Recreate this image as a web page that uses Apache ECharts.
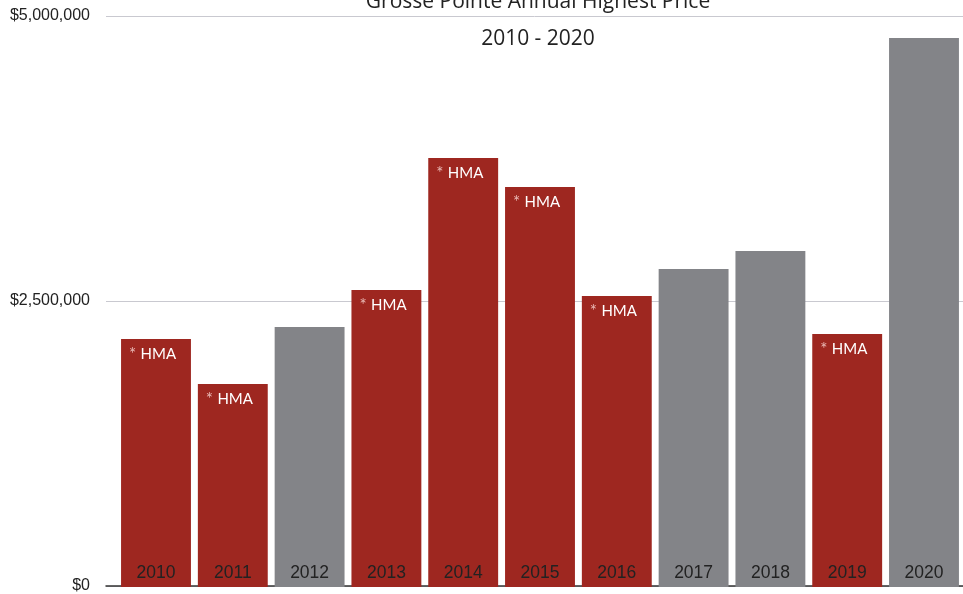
<!DOCTYPE html>
<html><head><meta charset="utf-8">
<script src="https://cdn.jsdelivr.net/npm/echarts@6/dist/echarts.min.js"></script>
<style>html,body{margin:0;padding:0;background:#fff}#c{width:963px;height:594px}</style>
</head><body><div id="c"></div>
<script>
const years = ['2010','2011','2012','2013','2014','2015','2016','2017','2018','2019','2020'];
const prices = [2172000,1778000,2277000,2601000,3757000,3503000,2548000,2785000,2942000,2215000,4807000];
const hma = [true,true,false,true,true,true,true,false,false,true,false];
const yTicks = [0,2500000,5000000];
const titleText = 'Grosse Pointe Annual Highest Price';
const subTitleText = '2010 - 2020';

const RED = '#9E2720', GRAY = '#838488';
const chart = echarts.init(document.getElementById('c'));
const mainData = prices.map((v,i)=>({
  value: v,
  itemStyle: {color: hma[i] ? RED : GRAY},
  label: {show: hma[i]}
}));
chart.setOption({
  animation:false,
  title:[
    {text:titleText,left:533,textAlign:'center',top:-13,textStyle:{fontFamily:'Open Sans',fontWeight:'normal',fontSize:21,color:'#222'}},
    {text:subTitleText,left:533,textAlign:'center',top:24,textStyle:{fontFamily:'Open Sans',fontWeight:'normal',fontSize:21,color:'#222'}}
  ],
  grid:[
    {left:106,right:0,top:16,bottom:7,containLabel:false},
    {left:117.6,right:0.6,top:16,bottom:7,containLabel:false}
  ],
  xAxis:[
    {gridIndex:0,type:'value',min:0,max:1,axisLine:{show:true,onZero:false,lineStyle:{color:'#333',width:1.5}},axisTick:{show:false},axisLabel:{show:false},splitLine:{show:false}},
    {gridIndex:1,type:'category',data:years,axisLine:{show:false},axisTick:{show:false},axisLabel:{show:false}}
  ],
  yAxis:[
    {gridIndex:0,type:'value',min:0,max:5000000,interval:2500000,
     axisLine:{show:false},axisTick:{show:false},
     axisLabel:{margin:16,fontFamily:'Liberation Sans',fontSize:16,color:'#222',formatter:v=>yTicks.includes(v)?'$'+v.toLocaleString('en-US'):''},
     splitLine:{show:true,lineStyle:{color:'#c9c9d0',width:1}}},
    {gridIndex:1,type:'value',min:0,max:5000000,show:false,splitLine:{show:false}}
  ],
  series:[
    {type:'bar',xAxisIndex:1,yAxisIndex:1,data:mainData,barCategoryGap:'9%',
     label:{position:'insideTopLeft',distance:8,offset:[0,-1],formatter:'{a|*} {b|HMA}',
       rich:{a:{color:'#eab9b5',fontSize:17,fontFamily:'Lato',padding:[0,1,0,0]},b:{color:'#fff',fontSize:15,fontFamily:'Lato'}}}},
    {type:'bar',xAxisIndex:1,yAxisIndex:1,data:prices,barCategoryGap:'9%',barGap:'-100%',
     itemStyle:{color:'rgba(0,0,0,0)'},silent:true,
     label:{show:true,position:'insideBottom',distance:5,formatter:p=>years[p.dataIndex],fontFamily:'Liberation Sans',fontSize:17.5,color:'#222'}}
  ]
});
</script></body></html>
